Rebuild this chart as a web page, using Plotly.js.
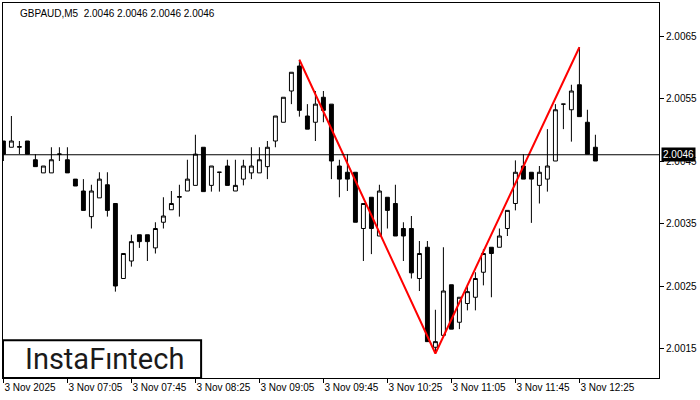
<!DOCTYPE html>
<html>
<head>
<meta charset="utf-8">
<script src="https://cdn.plot.ly/plotly-3.0.1.min.js"></script>
<style>html,body{margin:0;padding:0;background:#fff;}#chart{width:700px;height:400px;}</style>
</head>
<body>
<div id="chart"></div>
<script>
var symbol = "GBPAUD,M5";
var lastPrice = 2.0046;
var openP = [2.00482,2.00472,2.00472,2.00482,2.00452,2.00431,2.00431,2.00461,2.00452,2.00421,
2.00402,2.00361,2.00391,2.00412,2.00382,2.00262,2.00290,2.00332,2.00332,2.00311,
2.00352,2.00372,2.00392,2.00402,2.00411,2.00472,2.00411,2.00432,2.00442,2.00402,
2.00421,2.00431,2.00431,2.00441,2.00482,2.00512,2.00562,2.00602,2.00522,2.00512,
2.00552,2.00541,2.00442,2.00432,2.00432,2.00342,2.00392,2.00330,2.00392,2.00382,
2.00342,2.00342,2.00262,2.00312,2.00152,2.00171,2.00252,2.00192,2.00222,2.00232,
2.00272,2.00312,2.00312,2.00342,2.00382,2.00442,2.00432,2.00411,2.00421,2.00450,
2.00541,2.00532,2.00572,2.00512,2.00472];
var highP = [2.00482,2.00522,2.00482,2.00482,2.00461,2.00442,2.00472,2.00472,2.00472,2.00421,
2.00421,2.00412,2.00432,2.00432,2.00382,2.00302,2.00332,2.00332,2.00332,2.00352,
2.00392,2.00402,2.00412,2.00452,2.00492,2.00472,2.00442,2.00432,2.00452,2.00452,
2.00452,2.00472,2.00472,2.00482,2.00522,2.00552,2.00592,2.00612,2.00541,2.00562,
2.00562,2.00541,2.00452,2.00461,2.00432,2.00382,2.00392,2.00412,2.00392,2.00412,
2.00352,2.00362,2.00322,2.00322,2.00212,2.00312,2.00252,2.00232,2.00252,2.00272,
2.00309,2.00312,2.00342,2.00371,2.00451,2.00461,2.00432,2.00442,2.00501,2.00541,
2.00541,2.00572,2.00632,2.00532,2.00492];
var lowP = [2.00450,2.00472,2.00461,2.00461,2.00441,2.00431,2.00431,2.00450,2.00431,2.00410,
2.00371,2.00342,2.00391,2.00361,2.00241,2.00262,2.00281,2.00311,2.00290,2.00302,
2.00342,2.00372,2.00361,2.00402,2.00411,2.00401,2.00401,2.00401,2.00411,2.00402,
2.00411,2.00421,2.00431,2.00421,2.00472,2.00512,2.00541,2.00521,2.00501,2.00482,
2.00512,2.00421,2.00392,2.00402,2.00352,2.00290,2.00301,2.00330,2.00342,2.00330,
2.00290,2.00262,2.00242,2.00161,2.00143,2.00171,2.00181,2.00181,2.00211,2.00211,
2.00251,2.00232,2.00312,2.00330,2.00371,2.00421,2.00351,2.00382,2.00401,2.00450,
2.00501,2.00481,2.00521,2.00461,2.00450];
var closeP = [2.00461,2.00482,2.00473,2.00461,2.00441,2.00442,2.00452,2.00461,2.00431,2.00410,
2.00371,2.00402,2.00421,2.00371,2.00250,2.00302,2.00321,2.00321,2.00321,2.00342,
2.00362,2.00382,2.00393,2.00421,2.00461,2.00401,2.00442,2.00432,2.00411,2.00411,
2.00442,2.00442,2.00452,2.00472,2.00522,2.00552,2.00592,2.00531,2.00501,2.00541,
2.00531,2.00450,2.00421,2.00421,2.00352,2.00382,2.00342,2.00402,2.00371,2.00330,
2.00330,2.00271,2.00302,2.00161,2.00161,2.00242,2.00181,2.00232,2.00241,2.00262,
2.00302,2.00302,2.00330,2.00371,2.00432,2.00421,2.00421,2.00432,2.00442,2.00532,
2.00541,2.00562,2.00521,2.00461,2.00450];
var tickIdx = [0,8,16,24,32,40,48,56,64,72];
var tickLabels = ["3 Nov 2025","3 Nov 07:05","3 Nov 07:45","3 Nov 08:25","3 Nov 09:05","3 Nov 09:45","3 Nov 10:25","3 Nov 11:05","3 Nov 11:45","3 Nov 12:25"];
var priceTicks = [2.0015,2.0025,2.0035,2.0045,2.0055,2.0065];
var patternIdx = [37,54,72];
var patternPrice = [2.00612,2.00142,2.00632];

var xIdx = openP.map(function(_,i){return i;});

var candles = {
  type: 'candlestick', x: xIdx, open: openP, high: highP, low: lowP, close: closeP,
  increasing: {line: {color: '#000', width: 1}, fillcolor: '#ffffff'},
  decreasing: {line: {color: '#000', width: 1}, fillcolor: '#000000'},
  whiskerwidth: 0, hoverinfo: 'skip', showlegend: false
};
var pattern = {
  type: 'scatter', mode: 'lines', x: patternIdx, y: patternPrice,
  line: {color: '#ff0000', width: 2}, hoverinfo: 'skip', showlegend: false
};
var fontFam = '"Liberation Sans", Arial, sans-serif';
var layout = {
  width: 700, height: 400,
  margin: {l: 3, r: 41, t: 3, b: 22, pad: 0},
  paper_bgcolor: '#fff', plot_bgcolor: '#fff',
  showlegend: false,
  boxgap: 0.3,
  xaxis: {
    type: 'linear', range: [-0.05, 81.95], rangeslider: {visible: false},
    showgrid: false, zeroline: false, showline: true, mirror: true, linecolor: '#000', linewidth: 1,
    tickmode: 'array', tickvals: tickIdx, ticktext: tickLabels,
    ticks: 'outside', ticklen: 4, tickcolor: '#000', ticklabelposition: 'outside right',
    tickfont: {family: fontFam, size: 10, color: '#000'}, fixedrange: true
  },
  yaxis: {
    side: 'right', range: [2.001028, 2.007028],
    showgrid: false, zeroline: false, showline: true, mirror: true, linecolor: '#000', linewidth: 1,
    tickmode: 'array', tickvals: priceTicks, ticktext: priceTicks.map(function(v){return v.toFixed(4);}),
    ticks: 'outside', ticklen: 4, tickcolor: '#000',
    tickfont: {family: fontFam, size: 10, color: '#000'}, fixedrange: true
  },
  shapes: [
    {type: 'line', xref: 'paper', yref: 'y', x0: 0, x1: 1, y0: lastPrice, y1: lastPrice, line: {color: '#000', width: 1}},
    {type: 'rect', xref: 'paper', yref: 'paper', x0: 0, x1: 0.302, y0: 0, y1: 0.101, fillcolor: '#fff', line: {color: '#000', width: 2}, layer: 'above'}
  ],
  annotations: [
    {xref: 'paper', yref: 'paper', x: 0.023, y: 0.993, xanchor: 'left', yanchor: 'top', showarrow: false,
     text: symbol + '  ' + [lastPrice, lastPrice, lastPrice, lastPrice].map(function(v){return v.toFixed(4);}).join(' '),
     font: {family: fontFam, size: 10, color: '#000'}},
    {xref: 'paper', yref: 'y', x: 1, y: lastPrice, xanchor: 'left', yanchor: 'middle', xshift: 2, showarrow: false,
     text: lastPrice.toFixed(4), bgcolor: '#000', borderpad: 1, font: {family: fontFam, size: 10, color: '#fff'}},
    {xref: 'paper', yref: 'paper', x: 0.155, y: 0.05, xanchor: 'center', yanchor: 'middle', showarrow: false,
     text: 'InstaF\u0131ntech', font: {family: 'Roboto, sans-serif', size: 29, color: '#1a1a1a', weight: 400}}
  ]
};
Plotly.newPlot('chart', [candles, pattern], layout, {staticPlot: true, displayModeBar: false});
</script>
</body>
</html>
